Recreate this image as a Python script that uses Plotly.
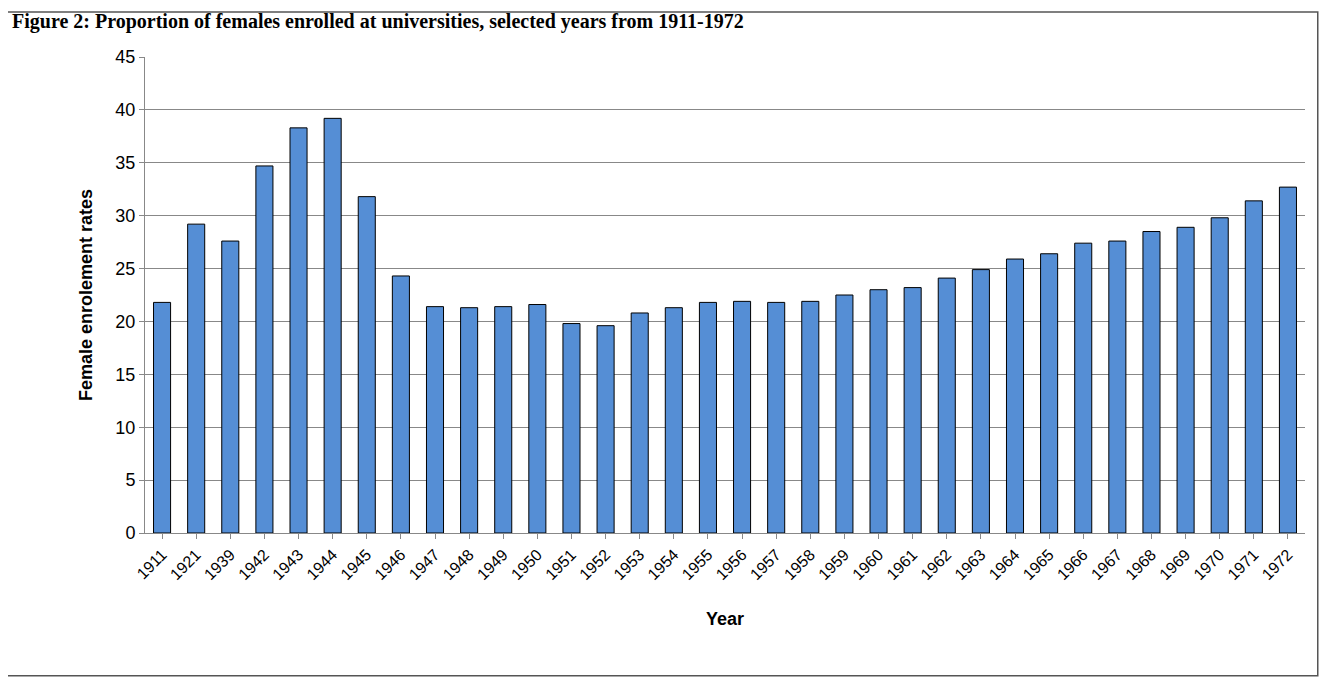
import plotly.graph_objects as go

years = ["1911","1921","1939","1942","1943","1944","1945","1946","1947","1948","1949","1950",
         "1951","1952","1953","1954","1955","1956","1957","1958","1959","1960","1961","1962",
         "1963","1964","1965","1966","1967","1968","1969","1970","1971","1972"]
rates = [21.8,29.2,27.6,34.7,38.3,39.2,31.8,24.3,21.4,21.3,21.4,21.6,19.8,19.6,20.8,21.3,
         21.8,21.9,21.8,21.9,22.5,23.0,23.2,24.1,24.9,25.9,26.4,27.4,27.6,28.5,28.9,29.8,31.4,32.7]

fig = go.Figure(go.Bar(x=years, y=rates, marker=dict(color="#558ed5", line=dict(color="black", width=1)), width=0.5))
fig.update_layout(
    width=1312, height=669, paper_bgcolor="white", plot_bgcolor="white",
    margin=dict(l=137, r=15, t=49, b=144), showlegend=False,
    font=dict(family="Liberation Sans, Arial", color="black"),
    xaxis=dict(tickangle=-45, tickfont=dict(size=16), showline=True, linecolor="#888", ticks="outside",
               ticklen=5, tickcolor="#888",
               title=dict(text="<b>Year</b>", font=dict(size=18), standoff=30)),
    yaxis=dict(range=[0,45], dtick=5, tickfont=dict(size=18), showgrid=True, gridcolor="#888", gridwidth=1,
               showline=True, linecolor="#888", ticks="outside", ticklen=5, tickcolor="#888",
               title=dict(text="<b>Female enrolement rates</b>", font=dict(size=18), standoff=18)),
    shapes=[dict(type="rect", xref="paper", yref="paper", x0=-0.1207, x1=1.011, y0=-0.30, y1=1.0945,
                 line=dict(color="#555", width=1.5))],
    annotations=[dict(text="<b>Figure 2: Proportion of females enrolled at universities, selected years from 1911-1972</b>",
                      xref="paper", yref="paper", x=-0.116, y=1.103, xanchor="left", yanchor="top",
                      showarrow=False, font=dict(family="Liberation Serif", size=20))]
)
fig.write_html("out.html")
